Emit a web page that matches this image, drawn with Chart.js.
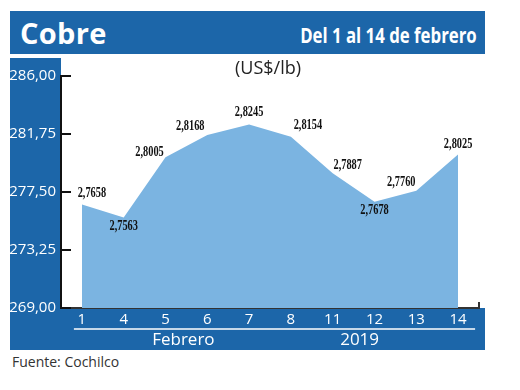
<!DOCTYPE html>
<html>
<head>
<meta charset="utf-8">
<script src="https://cdn.jsdelivr.net/npm/chart.js@4/dist/chart.umd.min.js"></script>
<style>
  body { margin: 0; background: #fff; }
  #wrap { position: relative; width: 520px; height: 390px; }
  #head { position: absolute; left: 10px; top: 11px; width: 475px; height: 43px; background: #1c66a9; color: #fff; }
  #title { position: absolute; left: 10px; top: 2px; font: bold 29px "Open Sans", sans-serif; letter-spacing: 0.3px; }
  #period { position: absolute; right: 8px; top: 10px; font: bold 21px "Open Sans", sans-serif; transform: scaleX(0.8); transform-origin: right center; white-space: nowrap; }
  #unit { position: absolute; left: 0; width: 536px; top: 55px; text-align: center; font: 18px "Open Sans", sans-serif; color: #222; }
  #box { position: absolute; left: 10px; top: 58px; width: 475px; height: 292px; }
  #src { position: absolute; left: 12px; top: 352px; font: 14px "Open Sans", sans-serif; color: #333; }
</style>
</head>
<body>
<div id="wrap">
  <div id="head"><span id="title">Cobre</span><span id="period">Del 1 al 14 de febrero</span></div>
  <div id="box"><canvas id="chart" width="475" height="292"></canvas></div>
  <div id="unit">(US$/lb)</div>
  <div id="src">Fuente: Cochilco</div>
</div>
<script>
// datos
const days = ['1', '4', '5', '6', '7', '8', '11', '12', '13', '14'];
const prices = [276.58, 275.63, 280.05, 281.68, 282.45, 281.54, 278.87, 276.78, 277.60, 280.25];
const priceLabels = ['2,7658', '2,7563', '2,8005', '2,8168', '2,8245', '2,8154', '2,7887', '2,7678', '2,7760', '2,8025'];
const yTicks = [269, 273.25, 277.5, 281.75, 286];
const groupLabels = ['Febrero', '2019'];

// posicion de las etiquetas respecto al punto
const labelOffsets = [[10, -11], [0, 9], [-16, -5], [-17, -9], [0, -12], [17, -11], [15, -8], [0, 9], [-15, -8], [0, -10]];

const BLUE = '#1c66a9';

// fondo azul de los ejes + marcas
const framePlugin = {
  id: 'frame',
  beforeDraw(chart) {
    const { ctx, chartArea, width, height } = chart;
    ctx.save();
    ctx.fillStyle = BLUE;
    ctx.fillRect(0, 0, chartArea.left, height);
    ctx.fillRect(0, chartArea.bottom, width, height - chartArea.bottom);
    ctx.restore();
  },
  afterDraw(chart) {
    const { ctx, chartArea, scales } = chart;
    const y = scales.y;
    ctx.save();
    // marcas del eje y hacia dentro
    ctx.strokeStyle = '#111';
    ctx.lineWidth = 2;
    yTicks.forEach(v => {
      const py = Math.round(y.getPixelForValue(v));
      ctx.beginPath();
      ctx.moveTo(chartArea.left, py);
      ctx.lineTo(chartArea.left + 10, py);
      ctx.stroke();
    });
    // remate derecho del eje x
    ctx.strokeStyle = '#333';
    ctx.beginPath();
    ctx.moveTo(chartArea.right, chartArea.bottom);
    ctx.lineTo(chartArea.right, chartArea.bottom - 6);
    ctx.stroke();
    // linea blanca y grupos
    const x = scales.x;
    const lineY = chartArea.bottom + 21;
    ctx.strokeStyle = '#fff';
    ctx.lineWidth = 1.5;
    ctx.beginPath();
    ctx.moveTo(x.getPixelForValue(0) - 8, lineY);
    ctx.lineTo(x.getPixelForValue(days.length - 1) + 17, lineY);
    ctx.stroke();
    ctx.fillStyle = '#fff';
    ctx.font = '17px "Open Sans", sans-serif';
    ctx.textAlign = 'center';
    ctx.textBaseline = 'middle';
    ctx.fillText(groupLabels[0], (x.getPixelForValue(2) + x.getPixelForValue(3)) / 2 - 3, lineY + 11);
    ctx.fillText(groupLabels[1], (x.getPixelForValue(6) + x.getPixelForValue(7)) / 2 + 6, lineY + 11);
    ctx.restore();
  }
};

// etiquetas de valor
const valuePlugin = {
  id: 'values',
  afterDatasetsDraw(chart) {
    const { ctx } = chart;
    const pts = chart.getDatasetMeta(0).data;
    ctx.save();
    ctx.fillStyle = '#111';
    ctx.font = 'bold 14px "Liberation Serif", serif';
    ctx.textAlign = 'center';
    ctx.textBaseline = 'middle';
    pts.forEach((p, i) => {
      const [dx, dy] = labelOffsets[i];
      ctx.save();
      ctx.translate(p.x + dx, p.y + dy);
      ctx.scale(0.74, 1);
      ctx.fillText(priceLabels[i], 0, 0);
      ctx.restore();
    });
    ctx.restore();
  }
};

new Chart(document.getElementById('chart'), {
  type: 'line',
  data: {
    labels: days,
    datasets: [{
      data: prices,
      fill: 'start',
      backgroundColor: '#7bb4e1',
      borderWidth: 0,
      borderColor: 'rgba(0,0,0,0)',
      pointRadius: 0,
      tension: 0
    }]
  },
  options: {
    responsive: false,
    animation: false,
    events: [],
    layout: { padding: { top: 18, right: 6, left: 0, bottom: 0 } },
    plugins: { legend: { display: false }, tooltip: { enabled: false } },
    scales: {
      x: {
        offset: true,
        grid: { display: false, drawTicks: false },
        border: { display: true, color: '#333', width: 2 },
        ticks: { color: '#fff', font: { family: 'Open Sans', size: 15 }, padding: 3, maxRotation: 0, autoSkip: false },
        afterFit(scale) { scale.height = 42; }
      },
      y: {
        min: 269,
        max: 286,
        grid: { display: false, drawTicks: false },
        border: { display: true, color: '#111', width: 2 },
        afterBuildTicks(scale) { scale.ticks = yTicks.map(v => ({ value: v })); },
        ticks: {
          color: '#fff',
          font: { family: 'Open Sans', size: 15 },
          padding: 5,
          callback: v => v.toFixed(2).replace('.', ',')
        },
        afterFit(scale) { scale.width = 51; }
      }
    }
  },
  plugins: [framePlugin, valuePlugin]
});
</script>
</body>
</html>
